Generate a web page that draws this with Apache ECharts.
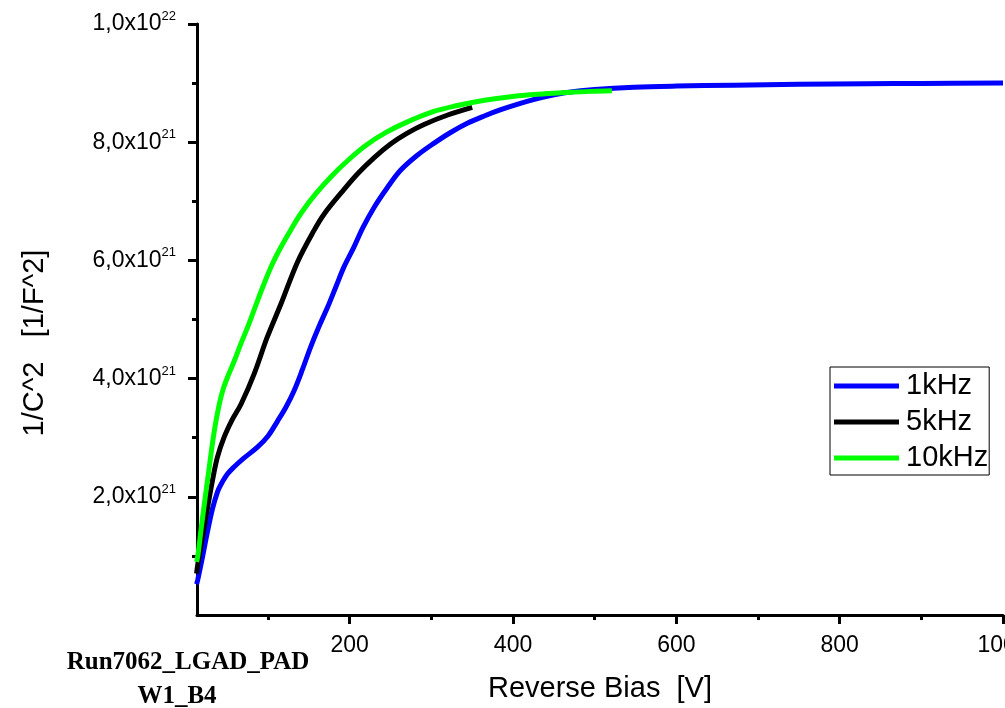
<!DOCTYPE html>
<html>
<head>
<meta charset="utf-8">
<script src="https://cdn.jsdelivr.net/npm/echarts@6/dist/echarts.min.js"></script>
<style>
html,body{margin:0;padding:0;background:#fff;}
#chart{width:1005px;height:708px;}
</style>
</head>
<body>
<div id="chart"></div>
<script>
// Reverse bias (V) and 1/C^2 (in units of 1e21 1/F^2)
const bias1k = [12.5,14,20,26,32,38,42,50,58,70,87,100,112,122,132,142,152,162,173,183,193,205,216,230,246,262,282,303,323,344,364,385,405,425,446,466,500,548,600,670,750,833,900,1000];
const invC1k = [0.52,0.6,1.0,1.42,1.8,2.08,2.2,2.38,2.5,2.65,2.84,3.03,3.29,3.52,3.8,4.15,4.53,4.87,5.21,5.55,5.89,6.22,6.55,6.9,7.23,7.52,7.77,7.98,8.16,8.32,8.44,8.55,8.64,8.72,8.79,8.84,8.89,8.93,8.95,8.965,8.98,8.99,8.995,9.0];

const bias5k = [12.5,14,20,26,32,38,46,56,67,83,99,116,136,156,169,190,210,230,250,270,291,320,350];
const invC5k = [0.7,0.86,1.35,1.82,2.28,2.67,3.0,3.3,3.57,4.08,4.7,5.27,5.97,6.5,6.79,7.15,7.47,7.74,7.97,8.15,8.3,8.46,8.59];

const bias10k = [12.5,14,18,22,28,34,40,45,52,59,67,75,85,95,105,116,128,140,158,178,200,220,245,270,303,332,365,397,430,466,495,521];
const invC10k = [0.9,1.0,1.45,1.88,2.5,3.1,3.55,3.82,4.08,4.31,4.6,4.87,5.24,5.6,5.93,6.23,6.52,6.79,7.12,7.43,7.72,7.95,8.17,8.34,8.52,8.62,8.71,8.77,8.81,8.84,8.86,8.87];

const seriesNames = ['1kHz','5kHz','10kHz'];
const xMajorTicks = [200,400,600,800,1000];
const xMinorTicks = [100,300,500,700,900];
const yMajorTicks = [2,4,6,8,10];
const yMinorTicks = [1,3,5,7,9];

function zip(a,b){return a.map((v,i)=>[v,b[i]]);}
const FONT = '"Liberation Sans", Arial, sans-serif';

const chart = echarts.init(document.getElementById('chart'), null, {renderer:'canvas'});

function yFmt(v){
  let exp = 21, m = v;
  if (v >= 10) { exp = 22; m = v/10; }
  return '{b|' + m.toFixed(1).replace('.', ',') + 'x10}{s|' + exp + '}';
}

const option = {
  backgroundColor:'#fff',
  animation:false,
  grid:{left:197, right:2, top:24, bottom:93, containLabel:false, outerBoundsMode:'none'},
  xAxis:[{
    type:'value', min:13, max:1000,
    name:'Reverse Bias  [V]', nameLocation:'middle', nameGap:59,
    nameTextStyle:{fontFamily:FONT, fontSize:29, color:'#000'},
    axisLine:{show:true, lineStyle:{color:'#000', width:3}},
    axisTick:{show:true, customValues:xMajorTicks, length:9, lineStyle:{color:'#000', width:3}},
    axisLabel:{show:true, customValues:xMajorTicks, fontFamily:FONT, fontSize:23, color:'#000', margin:19,
      formatter:(v)=>String(v)},
    splitLine:{show:false}
  },{
    type:'value', min:13, max:1000, position:'bottom',
    axisLine:{show:false},
    axisTick:{show:true, customValues:xMinorTicks, length:5, lineStyle:{color:'#000', width:3}},
    axisLabel:{show:false},
    splitLine:{show:false}
  }],
  yAxis:[{
    type:'value', min:0, max:10,
    axisLine:{show:true, lineStyle:{color:'#000', width:3}},
    axisTick:{show:true, customValues:yMajorTicks, length:9, lineStyle:{color:'#000', width:3}},
    axisLabel:{show:true, customValues:yMajorTicks, margin:21, formatter:yFmt,
      rich:{
        b:{fontFamily:FONT, fontSize:23, color:'#000', lineHeight:28},
        s:{fontFamily:FONT, fontSize:13, color:'#000', verticalAlign:'top', lineHeight:15}
      }},
    splitLine:{show:false}
  },{
    type:'value', min:0, max:10, position:'left',
    axisLine:{show:false},
    axisTick:{show:true, customValues:yMinorTicks, length:5, lineStyle:{color:'#000', width:3}},
    axisLabel:{show:false},
    splitLine:{show:false}
  }],
  legend:{
    left:830, top:367, orient:'vertical',
    data:seriesNames,
    icon:'rect', itemWidth:65, itemHeight:5, itemGap:6,
    padding:[4,1,2,4],
    borderColor:'#000', borderWidth:1,
    textStyle:{fontFamily:FONT, fontSize:29, color:'#000', lineHeight:30, padding:[0,0,0,2]}
  },
  series:[
    {name:seriesNames[0], type:'line', data:zip(bias1k,invC1k), showSymbol:false, smooth:0.35,
     lineStyle:{color:'#0000ff', width:5}, itemStyle:{color:'#0000ff'}},
    {name:seriesNames[1], type:'line', data:zip(bias5k,invC5k), showSymbol:false, smooth:0.35,
     lineStyle:{color:'#000000', width:5}, itemStyle:{color:'#000000'}},
    {name:seriesNames[2], type:'line', data:zip(bias10k,invC10k), showSymbol:false, smooth:0.35,
     lineStyle:{color:'#00ff00', width:5}, itemStyle:{color:'#00ff00'}}
  ],
  graphic:[
    {type:'text', x:35, y:343, rotation:Math.PI/2,
     style:{text:'1/C^2   [1/F^2]', font:'29px ' + FONT, fill:'#000', textAlign:'center', textVerticalAlign:'middle'}},
    {type:'text', x:188, y:663,
     style:{text:'Run7062_LGAD_PAD', font:'bold 25px "Liberation Serif", "Times New Roman", serif', fill:'#000', textAlign:'center', textVerticalAlign:'middle'}},
    {type:'text', x:177, y:697,
     style:{text:'W1_B4', font:'bold 25px "Liberation Serif", "Times New Roman", serif', fill:'#000', textAlign:'center', textVerticalAlign:'middle'}}
  ]
};
chart.setOption(option);
</script>
</body>
</html>
